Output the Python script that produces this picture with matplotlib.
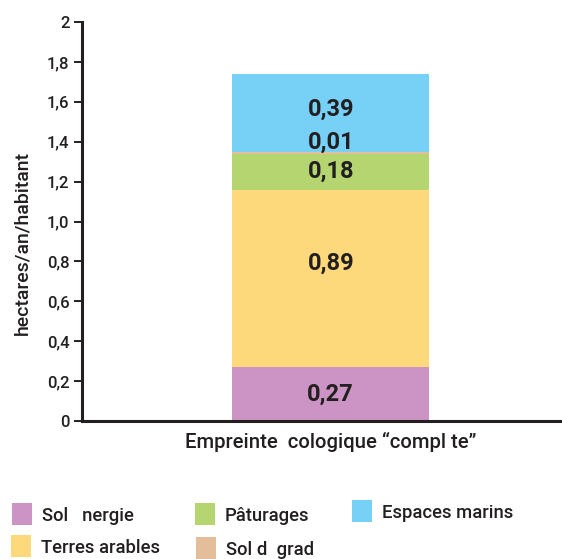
import matplotlib
matplotlib.use("Agg")
import matplotlib.pyplot as plt
from matplotlib.patches import Rectangle

plt.rcParams['font.family'] = ['Roboto', 'DejaVu Sans']

# Stack segments, bottom to top
segments = ["Sol   nergie", "Terres arables", "Pâturages", "Sol d  grad", "Espaces marins"]
values = [0.27, 0.89, 0.18, 0.01, 0.39]
labels = ["0,27", "0,89", "0,18", "0,01", "0,39"]
colors = ["#cc94c4", "#fed97b", "#b4d56f", "#e4bd9b", "#77d0f6"]
label_shift = [0.0, 0.075, 0.0, 0.05, 0.02]

category = "Empreinte  cologique “compl te”"
yticks = [0, 0.2, 0.4, 0.6, 0.8, 1.0, 1.2, 1.4, 1.6, 1.8, 2.0]
yticklabels = ["0", "0,2", "0,4", "0,6", "0,8", "1,0", "1,2", "1,4", "1,6", "1,8", "2"]

W, H = 562, 559
ink = "#231f20"

fig = plt.figure(figsize=(W / 100, H / 100), dpi=100)
ax = fig.add_axes([82 / W, 1 - 421 / H, (W - 82) / W, (421 - 22) / H])

bottom = 0.0
for v, lab, c, dy in zip(values, labels, colors, label_shift):
    ax.bar(0, v, width=0.6, bottom=bottom, color=c, edgecolor="none", zorder=2)
    ax.text(0, bottom + v / 2 + dy, lab, ha="center", va="center",
            fontsize=17, fontweight="bold", color=ink, zorder=3)
    bottom += v

ax.set_xlim(-0.758, 0.705)
ax.set_ylim(0, 2)
ax.set_yticks(yticks)
ax.set_yticklabels(yticklabels, fontweight="medium")
ax.set_xticks([0])
ax.set_xticklabels([category], fontweight="medium")
ax.tick_params(axis="y", length=6, width=1.4, color=ink, labelsize=12,
               labelcolor=ink, pad=3)
ax.tick_params(axis="x", length=0, labelsize=14.6, labelcolor=ink, pad=8)
for s in ["top", "right"]:
    ax.spines[s].set_visible(False)
for s in ["left", "bottom"]:
    ax.spines[s].set_linewidth(2.2)
    ax.spines[s].set_color(ink)
ax.set_ylabel("hectares/an/habitant", fontsize=14, color=ink,
              fontweight="medium")
ax.yaxis.set_label_coords(-0.106, 0.446)

# Legend laid out in two rows and three columns
legend_pos = [(12, 503), (11, 535), (195, 503), (196, 537), (352, 500)]
for name, c, (x, y) in zip(segments, colors, legend_pos):
    fig.add_artist(Rectangle((x / W, 1 - (y + 22) / H), 20 / W, 22 / H,
                             transform=fig.transFigure, color=c, lw=0))
    fig.text((x + 30) / W, 1 - (y + 13) / H, name, ha="left", va="center",
             fontsize=13.3, color=ink, fontweight="medium")

fig.savefig("out.png", dpi=100)
